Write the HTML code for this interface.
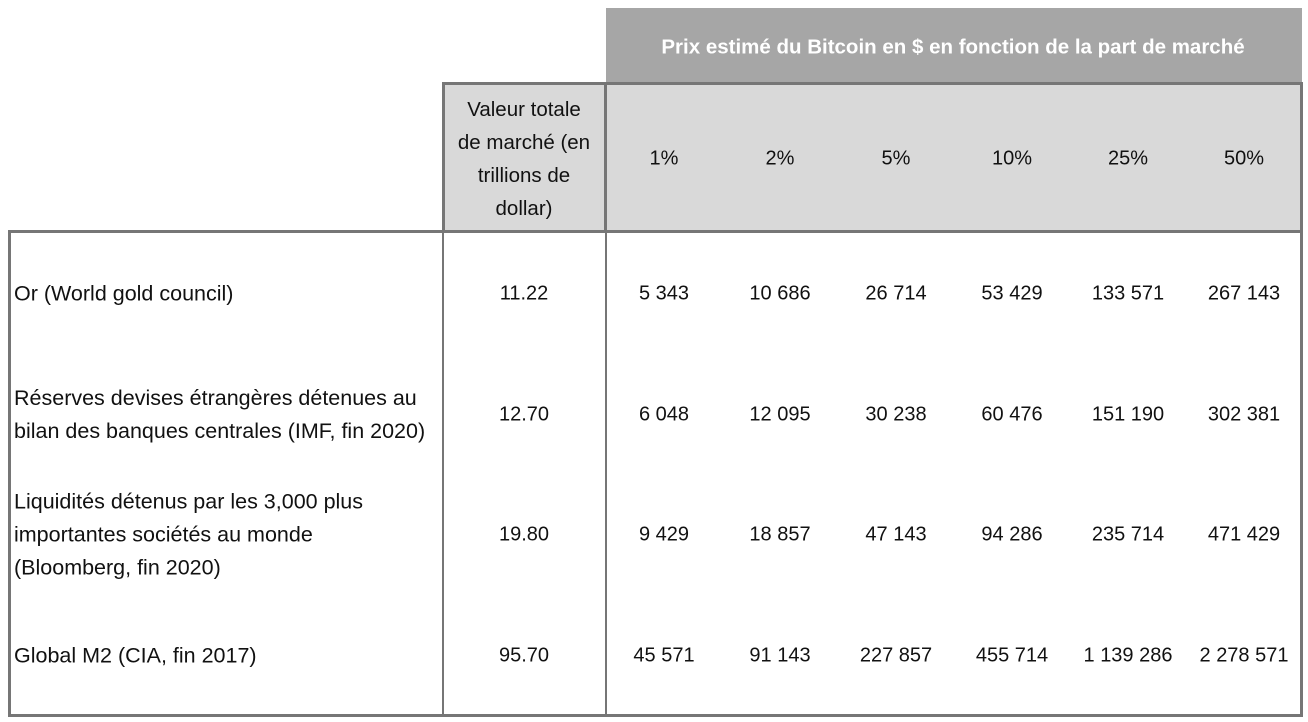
<!DOCTYPE html>
<html><head><meta charset="utf-8"><style>
body{margin:0;width:1308px;height:722px;background:#fff;position:relative;overflow:hidden;font-family:"Liberation Sans",sans-serif;color:#111;}
.a{position:absolute;box-sizing:border-box;}
.t{position:absolute;white-space:nowrap;font-size:20px;line-height:33px;}
.c{transform:translate(-50%,-50%);text-align:center;}
.l{transform:translateY(-50%);left:14px;font-size:21.5px;}
</style></head><body>
<div class="a" style="left:606px;top:8px;width:696px;height:75px;background:#a6a6a6;"></div>
<div class="t c" style="left:953px;top:47px;color:#fff;font-weight:bold;font-size:20.5px;">Prix estimé du Bitcoin en $ en fonction de la part de marché</div>
<div class="a" style="left:442px;top:82px;width:861px;height:151px;background:#d9d9d9;border:3px solid #767676;"></div>
<div class="a" style="left:604px;top:82px;width:3px;height:151px;background:#767676;"></div>
<div class="t c" style="left:524px;top:159px;font-size:20.5px;">Valeur totale<br>de marché (en<br>trillions de<br>dollar)</div>
<div class="a" style="left:8px;top:230px;width:1295px;height:487px;border:3px solid #767676;"></div>
<div class="a" style="left:442px;top:230px;width:2px;height:487px;background:#767676;"></div>
<div class="a" style="left:605px;top:230px;width:2px;height:487px;background:#767676;"></div>
<script>
const pcts=["1%","2%","5%","10%","25%","50%"];
const labels=[["Or (World gold council)"],["Réserves devises étrangères détenues au","bilan des banques centrales (IMF, fin 2020)"],["Liquidités détenus par les 3,000 plus","importantes sociétés au monde","(Bloomberg, fin 2020)"],["Global M2 (CIA, fin 2017)"]];
const totals=["11.22","12.70","19.80","95.70"];
const row0=["5 343","10 686","26 714","53 429","133 571","267 143"];
const row1=["6 048","12 095","30 238","60 476","151 190","302 381"];
const row2=["9 429","18 857","47 143","94 286","235 714","471 429"];
const row3=["45 571","91 143","227 857","455 714","1 139 286","2 278 571"];
const rows=[row0,row1,row2,row3];
const colX=i=>664+i*116, rowY=r=>294+r*120.7;
function mk(txt,x,y,cls){const d=document.createElement('div');d.className='t '+cls;d.innerHTML=txt;d.style.top=y+'px';if(x!==null)d.style.left=x+'px';document.body.appendChild(d);return d;}
pcts.forEach((p,i)=>{const d=mk(p,colX(i),159,'c');

});
labels.forEach((lb,r)=>{const d=mk(lb.join('<br>'),null,rowY(r),'l');


const t=mk(totals[r],524,rowY(r),'c');


rows[r].forEach((v,i)=>{const c=mk(v,colX(i),rowY(r),'c');

});});
</script>
</body></html>
